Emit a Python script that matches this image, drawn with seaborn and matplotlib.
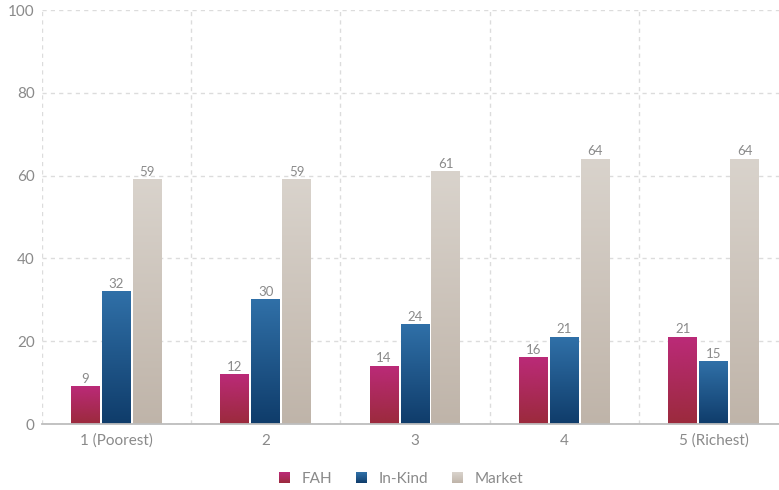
import numpy as np
import pandas as pd
import matplotlib
matplotlib.use("Agg")
import matplotlib.pyplot as plt
from matplotlib.colors import LinearSegmentedColormap, to_rgb
from matplotlib.patches import Rectangle
from matplotlib.legend_handler import HandlerBase
import seaborn as sns

# Data
quintiles = ["1 (Poorest)", "2", "3", "4", "5 (Richest)"]
sources = ["FAH", "In-Kind", "Market"]
fah = [9, 12, 14, 16, 21]
in_kind = [32, 30, 24, 21, 15]
market = [59, 59, 61, 64, 64]
y_ticks = [0, 20, 40, 60, 80, 100]

# Vertical gradients (bottom colour, top colour) per series
gradients = {
    "FAH": ("#9b2a3c", "#bb2a78"),
    "In-Kind": ("#0f3c6a", "#3070a8"),
    "Market": ("#bfb4a9", "#d9d3cc"),
}

df = pd.DataFrame({
    "quintile": quintiles * 3,
    "source": ["FAH"] * 5 + ["In-Kind"] * 5 + ["Market"] * 5,
    "share": fah + in_kind + market,
})

sns.set_theme(style="white")
plt.rcParams["font.family"] = ["Lato", "DejaVu Sans"]

W, H = 779, 490
fig = plt.figure(figsize=(W / 100, H / 100), dpi=100)
ax = fig.add_axes([41.5 / W, (H - 424) / H, 747 / W, 414 / H])

mid = {k: tuple((np.array(to_rgb(a)) + np.array(to_rgb(b))) / 2) for k, (a, b) in gradients.items()}
sns.barplot(data=df, x="quintile", y="share", hue="source", hue_order=sources,
            order=quintiles, palette=mid, width=0.622, gap=0.065,
            ax=ax, legend=False, saturation=1)

# Replace flat fills with per-bar vertical gradients
ramp = np.linspace(0, 1, 256).reshape(-1, 1)
for src, cont in zip(sources, ax.containers):
    cmap = LinearSegmentedColormap.from_list(src, gradients[src])
    for bar in cont:
        x0, y0 = bar.get_x(), bar.get_y()
        w, h = bar.get_width(), bar.get_height()
        ax.imshow(ramp, extent=[x0, x0 + w, y0, y0 + h], origin="lower",
                  cmap=cmap, aspect="auto", zorder=2, interpolation="bilinear")
        bar.set_facecolor("none")
        bar.set_edgecolor("none")
    ax.bar_label(cont, padding=1.2, color="#8a8a8a", fontsize=9.5)

ax.set_xlim(-0.5, 4.5)
ax.set_ylim(0, 100)
ax.set_yticks(y_ticks)
ax.set_xlabel("")
ax.set_ylabel("")

# Dashed grid: horizontal at y ticks, vertical at category boundaries
ax.set_xticks(np.arange(-0.5, 5, 1), minor=True)
ax.grid(False)
ax.grid(axis="y", which="major", color="#dcdcdc", linestyle=(0, (3, 3)), linewidth=1)
ax.grid(axis="x", which="minor", color="#dcdcdc", linestyle=(0, (3, 3)), linewidth=1)
ax.set_axisbelow(True)

for s in ["left", "top", "right"]:
    ax.spines[s].set_visible(False)
ax.spines["bottom"].set_color("#bdbdbd")
ax.spines["bottom"].set_linewidth(1.3)
ax.spines["bottom"].set_zorder(3)

ax.tick_params(axis="both", which="both", length=0, colors="#8a8a8a", labelsize=11)
ax.tick_params(axis="x", pad=7)
ax.tick_params(axis="y", pad=5)


class GradientSquare(HandlerBase):
    def __init__(self, bottom, top, steps=12):
        super().__init__()
        self.bottom = np.array(to_rgb(bottom))
        self.top = np.array(to_rgb(top))
        self.steps = steps

    def create_artists(self, legend, orig_handle, xdescent, ydescent,
                       width, height, fontsize, trans):
        arts = []
        for i in range(self.steps):
            t = (i + 0.5) / self.steps
            c = self.bottom + (self.top - self.bottom) * t
            r = Rectangle((-xdescent, -ydescent + height * i / self.steps),
                          width, height / self.steps * 1.05,
                          facecolor=c, edgecolor="none", transform=trans)
            arts.append(r)
        return arts


handles = [Rectangle((0, 0), 1, 1) for _ in sources]
handler_map = {h: GradientSquare(*gradients[s]) for h, s in zip(handles, sources)}
leg = fig.legend(handles, sources, handler_map=handler_map, loc="center",
                 bbox_to_anchor=(401 / W, 1 - 479 / H), ncol=3, frameon=False,
                 fontsize=11, handlelength=0.75, handleheight=0.75,
                 handletextpad=0.75, columnspacing=1.55, labelcolor="#8a8a8a")

fig.savefig("out.png", dpi=100)
